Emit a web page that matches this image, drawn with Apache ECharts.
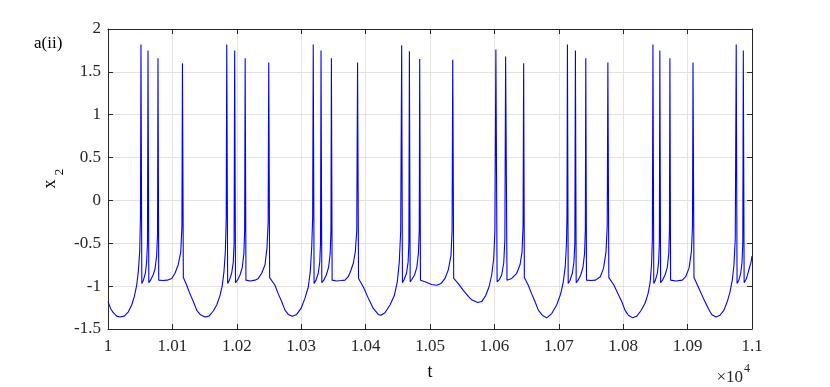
<!DOCTYPE html>
<html>
<head>
<meta charset="utf-8">
<script src="https://cdn.jsdelivr.net/npm/echarts@6/dist/echarts.min.js"></script>
<style>
  html, body { margin: 0; padding: 0; background: #fff; }
  #chart { width: 830px; height: 387px; }
</style>
</head>
<body>
<div id="chart"></div>
<script>
// x2(t), one array per burst cycle: [t, x2]
const cycle1 = [
  [10000,-1.18],[10004,-1.26],[10008.2,-1.31],[10013.5,-1.35],[10018.6,-1.36],[10025.3,-1.35],[10031.6,-1.30],
  [10036.8,-1.22],[10040.9,-1.12],[10044.5,-0.99],[10047.1,-0.83],[10049.2,-0.60],[10050.4,-0.2],[10051.2,1.82],
  [10052.5,-0.97],[10055,-0.93],[10058,-0.85],[10060,-0.72],[10061.3,-0.5],[10062.1,1.75],
  [10063.4,-0.96],[10066,-0.93],[10070,-0.87],[10073,-0.8],[10075.5,-0.65],[10076.9,-0.4],[10077.6,1.66],
  [10078.8,-0.93],[10085,-0.935],[10092,-0.93],[10099,-0.91],[10104,-0.85],[10109,-0.75],[10113,-0.6],[10114.8,-0.3],[10115.6,1.60]
]
const cycle2 = [
  [10117,-0.90],[10122.2,-0.99],[10127.3,-1.09],[10132.5,-1.18],[10137.7,-1.28],[10142.9,-1.33],[10150.6,-1.36],
  [10156.8,-1.35],[10163.5,-1.29],[10168.8,-1.22],[10173.9,-1.11],[10177.5,-0.99],[10180.1,-0.83],[10182.2,-0.6],[10183.6,-0.2],[10184.4,1.82],
  [10185.8,-0.97],[10188.5,-0.93],[10192,-0.85],[10194.5,-0.72],[10195.8,-0.5],[10196.7,1.75],
  [10198,-0.96],[10201,-0.93],[10205,-0.87],[10208.5,-0.78],[10211,-0.62],[10212.2,-0.35],[10213,1.66],
  [10214.2,-0.93],[10220.5,-0.94],[10228.3,-0.93],[10233.4,-0.91],[10238.7,-0.85],[10243.8,-0.75],[10246.9,-0.55],[10248.7,-0.25],[10249.6,1.61]
]
const cycle3 = [
  [10251,-0.90],[10259.3,-0.99],[10264.4,-1.09],[10269.7,-1.18],[10274.8,-1.28],[10280,-1.33],[10286.2,-1.35],
  [10293,-1.33],[10299.7,-1.26],[10305.9,-1.14],[10311,-1.01],[10314.1,-0.83],[10316.3,-0.55],[10317.8,-0.2],[10318.7,1.82],
  [10320,-0.97],[10323,-0.93],[10326.5,-0.85],[10328.8,-0.72],[10330,-0.5],[10330.8,1.75],
  [10332,-0.96],[10335,-0.93],[10339,-0.87],[10342.5,-0.78],[10345,-0.62],[10346.2,-0.35],[10346.9,1.66],
  [10348,-0.93],[10355,-0.94],[10362,-0.935],[10368,-0.93],[10373,-0.89],[10377,-0.82],[10381,-0.73],[10384,-0.6],[10386.3,-0.35],[10387.5,1.61]
]
const cycle4 = [
  [10389,-0.91],[10396.5,-1.01],[10404.2,-1.14],[10412,-1.26],[10419.7,-1.33],[10423.9,-1.34],[10430.1,-1.31],
  [10437.9,-1.22],[10444.6,-1.11],[10449.2,-0.95],[10452.3,-0.72],[10454.5,-0.35],[10456,1.81],
  [10457.2,-0.96],[10460,-0.92],[10463.5,-0.85],[10466,-0.72],[10467.2,-0.5],[10468,1.74],
  [10469.2,-0.95],[10472,-0.92],[10476,-0.87],[10479.5,-0.78],[10482,-0.62],[10483.3,-0.35],[10484,1.65],
  [10485.2,-0.93],[10492.2,-0.95],[10502.6,-0.98],[10510.4,-0.99],[10517.1,-0.97],[10523.3,-0.91],[10528.4,-0.81],[10532.6,-0.64],[10534.3,-0.35],[10535.3,1.64]
]
const cycle5 = [
  [10536.8,-0.91],[10544,-0.97],[10551.7,-1.05],[10559.5,-1.12],[10564.7,-1.16],[10574,-1.19],[10580.3,-1.18],
  [10586.5,-1.11],[10591.6,-1.01],[10595.8,-0.87],[10598.9,-0.68],[10600.8,-0.35],[10602.3,1.76],
  [10604.2,-0.95],[10608,-0.92],[10611.3,-0.87],[10614.5,-0.73],[10616.3,-0.45],[10617.4,1.68],
  [10619.6,-0.93],[10626.9,-0.91],[10634.7,-0.85],[10639.8,-0.75],[10642.9,-0.6],[10644.5,-0.3],[10645.4,1.60]
]
const cycle6 = [
  [10646.5,-0.90],[10652.6,-0.99],[10657.9,-1.09],[10663,-1.18],[10668.2,-1.28],[10674.4,-1.34],[10681.2,-1.37],
  [10689,-1.32],[10696.7,-1.22],[10702.9,-1.09],[10707,-0.95],[10710,-0.77],[10711.9,-0.5],[10712.7,-0.2],[10713.4,1.82],
  [10714.6,-0.97],[10717.5,-0.93],[10721,-0.85],[10723.5,-0.72],[10724.9,-0.5],[10725.8,1.75],
  [10727,-0.96],[10730,-0.93],[10734,-0.87],[10737.5,-0.78],[10740,-0.62],[10741.2,-0.35],[10741.9,1.66],
  [10743,-0.93],[10750,-0.935],[10757,-0.93],[10764.5,-0.89],[10769.5,-0.79],[10773.3,-0.6],[10775.2,-0.3],[10776.2,1.61]
]
const cycle7 = [
  [10777.7,-0.90],[10785.7,-0.99],[10791.9,-1.09],[10797.7,-1.18],[10802.8,-1.28],[10808,-1.34],[10814.7,-1.37],
  [10821,-1.35],[10827.2,-1.29],[10833.9,-1.20],[10838.5,-1.09],[10841.8,-0.96],[10844,-0.75],[10845.3,-0.45],[10846.2,1.82],
  [10847.5,-0.97],[10850,-0.93],[10853,-0.85],[10855,-0.72],[10856.1,-0.5],[10856.9,1.75],
  [10858.1,-0.96],[10861,-0.93],[10865,-0.87],[10868.5,-0.78],[10870.8,-0.62],[10871.8,-0.35],[10872.5,1.66],
  [10873.6,-0.93],[10882,-0.94],[10891.8,-0.93],[10897,-0.89],[10902.2,-0.79],[10905.9,-0.6],[10907.6,-0.3],[10908.4,1.61]
]
const cycle8 = [
  [10909.9,-0.90],[10916.6,-1.01],[10924.4,-1.14],[10932.2,-1.26],[10937.4,-1.33],[10944.1,-1.36],[10950.3,-1.34],
  [10956.5,-1.28],[10961.6,-1.18],[10965.8,-1.07],[10969.4,-0.93],[10972,-0.75],[10974,-0.45],[10975.5,1.82],
  [10976.8,-0.97],[10979.5,-0.93],[10982.5,-0.85],[10984.5,-0.72],[10985.7,-0.5],[10986.5,1.75],
  [10987.8,-0.96],[10991.5,-0.91],[10995.5,-0.80],[10998.5,-0.72],[11000,-0.65]
]

const xTicks = [1, 1.01, 1.02, 1.03, 1.04, 1.05, 1.06, 1.07, 1.08, 1.09, 1.1]  // ×10^4
const yTicks = [-1.5, -1, -0.5, 0, 0.5, 1, 1.5, 2]

const x2 = [].concat(cycle1, cycle2, cycle3, cycle4, cycle5, cycle6, cycle7, cycle8)

const font = 'Liberation Serif'
const ink = '#262626'

const chart = echarts.init(document.getElementById('chart'))

const tMin = xTicks[0] * 1e4
const tMax = xTicks[xTicks.length - 1] * 1e4
const tStep = Math.round((xTicks[1] - xTicks[0]) * 1e4)

// top / right edges of the box: ticks only
const boxAxis = {
  axisLine: { show: true, onZero: false, lineStyle: { color: ink, width: 1 } },
  axisTick: { show: true, inside: true, length: 5, lineStyle: { color: ink } },
  axisLabel: { show: false },
  splitLine: { show: false }
}

chart.setOption({
  animation: false,
  backgroundColor: '#fff',
  grid: { left: 108, right: 78, top: 29, bottom: 58 },
  xAxis: [
    {
      type: 'value',
      min: tMin,
      max: tMax,
      interval: tStep,
      axisLine: { show: true, onZero: false, lineStyle: { color: ink, width: 1 } },
      axisTick: { inside: true, length: 5, lineStyle: { color: ink } },
      axisLabel: {
        margin: 9,
        color: ink,
        fontFamily: font,
        fontSize: 17,
        formatter: v => String(parseFloat((v / 1e4).toFixed(2)))
      },
      splitLine: { show: true, lineStyle: { color: '#e3e3e3', width: 1 } }
    },
    Object.assign({ type: 'value', position: 'top', min: tMin, max: tMax, interval: tStep }, boxAxis)
  ],
  yAxis: [
    {
      type: 'value',
      min: yTicks[0],
      max: yTicks[yTicks.length - 1],
      interval: yTicks[1] - yTicks[0],
      axisLine: { show: true, onZero: false, lineStyle: { color: ink, width: 1 } },
      axisTick: { show: true, inside: true, length: 5, lineStyle: { color: ink } },
      axisLabel: { margin: 7, color: ink, fontFamily: font, fontSize: 17 },
      splitLine: { show: true, lineStyle: { color: '#e3e3e3', width: 1 } }
    },
    Object.assign({
      type: 'value', position: 'right',
      min: yTicks[0], max: yTicks[yTicks.length - 1], interval: yTicks[1] - yTicks[0]
    }, boxAxis)
  ],
  graphic: [
    { type: 'text', left: 34, top: 35, style: { text: 'a(ii)', font: '17px ' + font, fill: '#000' } },
    {
      type: 'text', x: 50, y: 184, rotation: Math.PI / 2,
      style: { text: 'x', font: '18px ' + font, fill: '#000', align: 'center', verticalAlign: 'middle' }
    },
    {
      type: 'text', x: 60, y: 172, rotation: Math.PI / 2,
      style: { text: '2', font: '13px ' + font, fill: '#000', align: 'center', verticalAlign: 'middle' }
    },
    { type: 'text', x: 430, y: 372, style: { text: 't', font: '18px ' + font, fill: '#000', align: 'center', verticalAlign: 'middle' } },
    { type: 'text', x: 743, y: 378, style: { text: '×10', font: '17px ' + font, fill: ink, align: 'right', verticalAlign: 'middle' } },
    { type: 'text', x: 744, y: 369, style: { text: '4', font: '12px ' + font, fill: ink, align: 'left', verticalAlign: 'middle' } }
  ],
  series: [
    {
      type: 'line',
      data: x2,
      showSymbol: false,
      symbol: 'none',
      clip: true,
      lineStyle: { color: '#0000ff', width: 1.1 }
    }
  ]
})
</script>
</body>
</html>
